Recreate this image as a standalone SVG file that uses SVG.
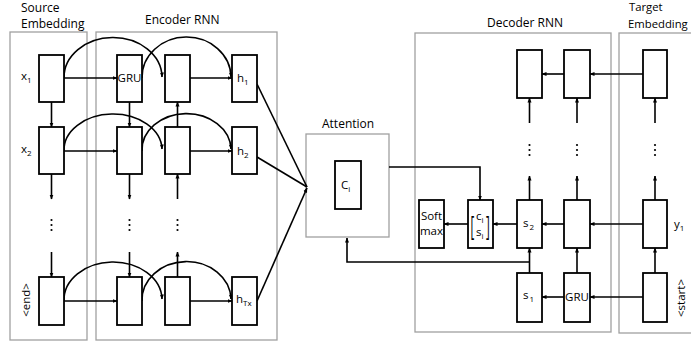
<svg xmlns="http://www.w3.org/2000/svg" width="691" height="345" viewBox="0 0 691 345">
<defs>
<marker id="ah" viewBox="0 0 10 10" refX="9" refY="5" markerWidth="5" markerHeight="5" orient="auto" markerUnits="userSpaceOnUse"><path d="M0,1 L10,5 L0,9 z" fill="#000"/></marker>
<style>
.panel{fill:none;stroke:#a0a0a0;stroke-width:1.3}
.box{fill:#fff;stroke:#000;stroke-width:1.8}
.c{fill:none;stroke:#000;stroke-width:1.6}
.a{fill:none;stroke:#000;stroke-width:1.6;marker-end:url(#ah)}
text{font-family:"Open Sans","Liberation Sans",sans-serif;font-size:11.5px;fill:#000}
.t{font-size:12px}
.t2{font-size:11.3px}
.sub{font-size:8px}
.dot{fill:#000}
</style>
</defs>
<g id="panels">
<rect class="panel" x="10" y="32" width="77" height="308"/>
<rect class="panel" x="96" y="32" width="181" height="308"/>
<rect class="panel" x="306" y="134" width="83" height="103"/>
<rect class="panel" x="415" y="33" width="196" height="299"/>
<rect class="panel" x="619" y="33" width="80" height="300"/>
</g>
<g id="titles">
<text class="t" x="21" y="12">Source</text>
<text class="t" x="21" y="28">Embedding</text>
<text class="t" x="145" y="24">Encoder RNN</text>
<text class="t" x="322" y="128">Attention</text>
<text class="t" x="487" y="27">Decoder RNN</text>
<text class="t2" x="629" y="11">Target</text>
<text class="t2" x="628" y="28">Embedding</text>
</g>
<g id="connectors">
<line class="a" x1="64" y1="78" x2="117" y2="78"/>
<line class="a" x1="190" y1="78" x2="232" y2="78"/>
<path class="a" d="M64,78 A49,40 0 0 1 162,77"/>
<path class="a" d="M142,78 A44,40 0 0 1 231,77"/>
<line class="a" x1="64" y1="151" x2="117" y2="151"/>
<line class="a" x1="190" y1="151" x2="232" y2="151"/>
<path class="a" d="M64,151 A49,36 0 0 1 162,149"/>
<path class="a" d="M142,151 A44,36 0 0 1 231,149"/>
<line class="a" x1="64" y1="301" x2="117" y2="301"/>
<line class="a" x1="190" y1="301" x2="232" y2="301"/>
<path class="a" d="M64,301 A49,38 0 0 1 162,299"/>
<path class="a" d="M142,301 A44,38 0 0 1 231,299"/>
<line class="a" x1="51.5" y1="102" x2="51.5" y2="127"/>
<line class="a" x1="129.5" y1="102" x2="129.5" y2="127"/>
<line class="a" x1="177.5" y1="127" x2="177.5" y2="102"/>
<line class="a" x1="51.5" y1="174" x2="51.5" y2="199"/>
<line class="a" x1="129.5" y1="174" x2="129.5" y2="199"/>
<line class="a" x1="177.5" y1="199" x2="177.5" y2="174"/>
<line class="a" x1="51.5" y1="252" x2="51.5" y2="277"/>
<line class="a" x1="129.5" y1="252" x2="129.5" y2="277"/>
<line class="a" x1="177.5" y1="277" x2="177.5" y2="252"/>
<line class="c" x1="257" y1="84" x2="307" y2="187"/>
<line class="c" x1="257" y1="157" x2="307" y2="187"/>
<line class="a" x1="257" y1="301" x2="307" y2="188"/>
<path class="a" d="M389,167 H480 V200"/>
<path class="a" d="M529.5,262 H347 V238"/>
<line class="a" x1="643" y1="74" x2="590" y2="74"/>
<line class="a" x1="564" y1="74" x2="542" y2="74"/>
<line class="a" x1="529.5" y1="123" x2="529.5" y2="98"/>
<line class="a" x1="577" y1="123" x2="577" y2="98"/>
<line class="a" x1="655" y1="123" x2="655" y2="98"/>
<line class="a" x1="529.5" y1="200" x2="529.5" y2="176"/>
<line class="a" x1="577" y1="200" x2="577" y2="176"/>
<line class="a" x1="655" y1="200" x2="655" y2="176"/>
<line class="a" x1="643" y1="224" x2="590" y2="224"/>
<line class="a" x1="564" y1="224" x2="542" y2="224"/>
<line class="a" x1="517" y1="224" x2="493" y2="224"/>
<line class="a" x1="468" y1="224" x2="444" y2="224"/>
<line class="a" x1="529.5" y1="273" x2="529.5" y2="248"/>
<line class="a" x1="577" y1="273" x2="577" y2="248"/>
<line class="a" x1="655" y1="273" x2="655" y2="248"/>
<line class="a" x1="643" y1="297" x2="590" y2="297"/>
<line class="a" x1="564" y1="297" x2="542" y2="297"/>
</g>
<g id="dots">
<g transform="translate(51.5,225)"><circle class="dot" cx="0" cy="-5" r="1.1"/><circle class="dot" cx="0" cy="0" r="1.1"/><circle class="dot" cx="0" cy="5" r="1.1"/></g>
<g transform="translate(129.5,225)"><circle class="dot" cx="0" cy="-5" r="1.1"/><circle class="dot" cx="0" cy="0" r="1.1"/><circle class="dot" cx="0" cy="5" r="1.1"/></g>
<g transform="translate(177.5,225)"><circle class="dot" cx="0" cy="-5" r="1.1"/><circle class="dot" cx="0" cy="0" r="1.1"/><circle class="dot" cx="0" cy="5" r="1.1"/></g>
<g transform="translate(529.5,150)"><circle class="dot" cx="0" cy="-5" r="1.1"/><circle class="dot" cx="0" cy="0" r="1.1"/><circle class="dot" cx="0" cy="5" r="1.1"/></g>
<g transform="translate(577,150)"><circle class="dot" cx="0" cy="-5" r="1.1"/><circle class="dot" cx="0" cy="0" r="1.1"/><circle class="dot" cx="0" cy="5" r="1.1"/></g>
<g transform="translate(655,150)"><circle class="dot" cx="0" cy="-5" r="1.1"/><circle class="dot" cx="0" cy="0" r="1.1"/><circle class="dot" cx="0" cy="5" r="1.1"/></g>
</g>
<g id="src1"><rect class="box" x="39" y="55" width="25" height="47"/></g>
<g id="src2"><rect class="box" x="39" y="127" width="25" height="47"/></g>
<g id="src3"><rect class="box" x="39" y="277" width="25" height="48"/></g>
<g id="lbl-x1"><text x="21" y="80">x<tspan class="sub" dy="3">1</tspan></text></g>
<g id="lbl-x2"><text x="21" y="153">x<tspan class="sub" dy="3">2</tspan></text></g>
<g id="lbl-end"><text transform="translate(30,300) rotate(-90)" text-anchor="middle">&lt;end&gt;</text></g>
<g id="enc-gru"><rect class="box" x="117" y="55" width="25" height="47"/><text x="129.5" y="82" text-anchor="middle">GRU</text></g>
<g id="enc-12"><rect class="box" x="165" y="55" width="25" height="47"/></g>
<g id="enc-h1"><rect class="box" x="232" y="55" width="25" height="47"/><text x="237" y="82">h<tspan class="sub" dy="3">1</tspan></text></g>
<g id="enc-21"><rect class="box" x="117" y="127" width="25" height="47"/></g>
<g id="enc-22"><rect class="box" x="165" y="127" width="25" height="47"/></g>
<g id="enc-h2"><rect class="box" x="232" y="127" width="25" height="47"/><text x="237" y="155">h<tspan class="sub" dy="3">2</tspan></text></g>
<g id="enc-31"><rect class="box" x="117" y="277" width="25" height="48"/></g>
<g id="enc-32"><rect class="box" x="165" y="277" width="25" height="48"/></g>
<g id="enc-htx"><rect class="box" x="232" y="277" width="25" height="48"/><text x="236" y="303">h<tspan class="sub" dy="3">Tx</tspan></text></g>
<g id="att-ci"><rect class="box" x="335" y="161" width="26" height="48"/><text x="341" y="189" font-size="12.5">C<tspan class="sub" dy="3">i</tspan></text></g>
<g id="dec-t1"><rect class="box" x="517" y="50" width="25" height="48"/></g>
<g id="dec-t2"><rect class="box" x="564" y="50" width="26" height="48"/></g>
<g id="tgt-top"><rect class="box" x="643" y="50" width="24" height="48"/></g>
<g id="softmax"><rect class="box" x="419" y="200" width="25" height="48"/><text x="431.5" y="220" text-anchor="middle" font-size="11">Soft</text><text x="431.5" y="235" text-anchor="middle" font-size="11">max</text></g>
<g id="concat"><rect class="box" x="468" y="200" width="25" height="48"/>
<text transform="translate(470.5,236) scale(1,2.3)" font-size="13" fill="#000">[</text>
<text transform="translate(486,236) scale(1,2.3)" font-size="13" fill="#000">]</text>
<text x="476" y="220">c<tspan class="sub" dy="3">i</tspan></text>
<text x="476" y="236">s<tspan class="sub" dy="3">i</tspan></text></g>
<g id="dec-s2"><rect class="box" x="517" y="200" width="25" height="48"/><text x="523" y="227">s<tspan class="sub" dx="1" dy="3">2</tspan></text></g>
<g id="dec-m2"><rect class="box" x="564" y="200" width="26" height="48"/></g>
<g id="tgt-y1"><rect class="box" x="643" y="200" width="24" height="48"/><text x="674" y="228">y<tspan class="sub" dy="3">1</tspan></text></g>
<g id="dec-s1"><rect class="box" x="517" y="273" width="25" height="49"/><text x="523" y="299">s<tspan class="sub" dx="1" dy="3">1</tspan></text></g>
<g id="dec-gru"><rect class="box" x="564" y="273" width="26" height="49"/><text x="577" y="301" text-anchor="middle">GRU</text></g>
<g id="tgt-start"><rect class="box" x="643" y="273" width="24" height="49"/><text transform="translate(685,298) rotate(-90)" text-anchor="middle">&lt;start&gt;</text></g>
</svg>
